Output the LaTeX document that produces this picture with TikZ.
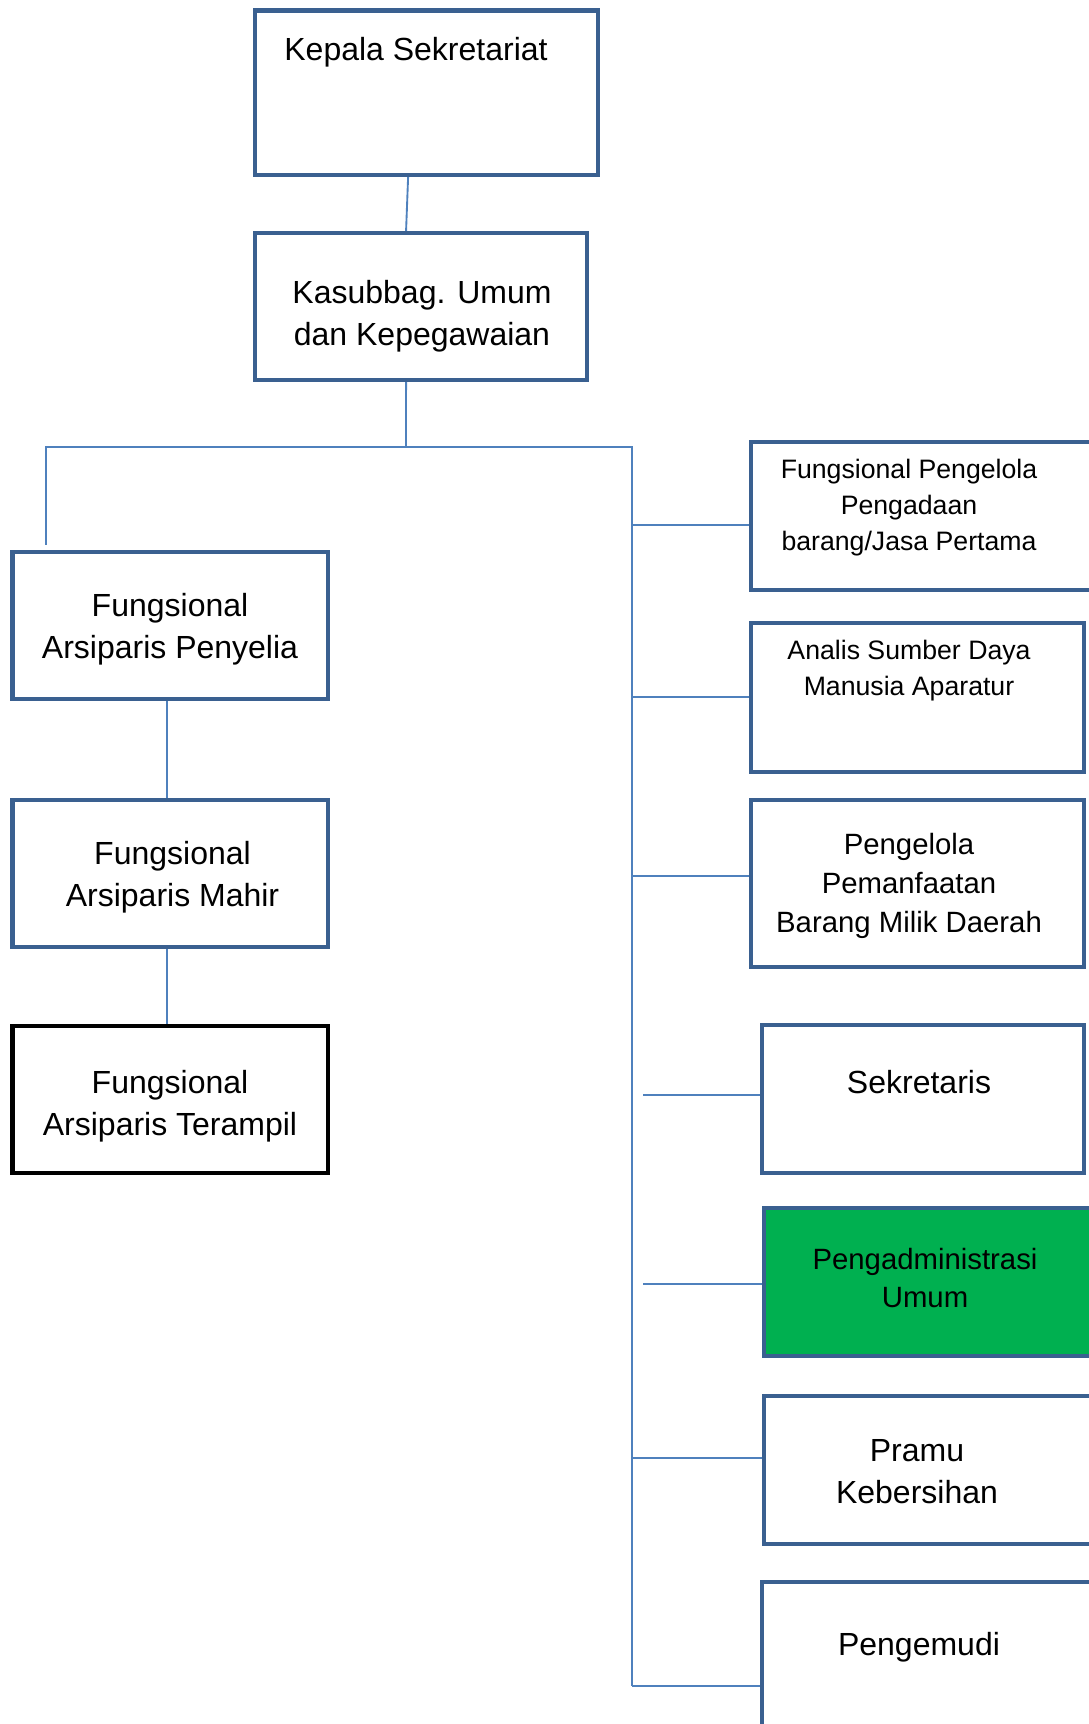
\documentclass[tikz,border=0pt]{standalone}
\usepackage{fontspec}
\setmainfont{Liberation Sans}
\definecolor{unitblue}{HTML}{3A6090}
\definecolor{linkblue}{HTML}{4F81BD}
\definecolor{admgreen}{HTML}{00B050}
\begin{document}
\begin{tikzpicture}[x=0.375pt,y=-0.375pt,unit/.style={shape=rectangle,draw=unitblue,line width=1.65pt,fill=white,inner sep=0pt},unitK/.style={unit,draw=black,line width=1.75pt},unitG/.style={unit,fill=admgreen},link/.style={draw=linkblue,line width=0.7pt},lbl/.style={align=center,inner sep=0pt,font=\fontsize{12}{15.75}\selectfont},lblM/.style={lbl,font=\fontsize{11}{14.6}\selectfont},lblS/.style={lbl,font=\fontsize{10}{13.5}\selectfont}]
\useasboundingbox (0,0) rectangle (1088,1724);

\node[unit,minimum width=128.6pt,minimum height=61.7pt] (kep) at (426.5,92.75) {};
\node[unit,minimum width=124.5pt,minimum height=55.1pt] (kas) at (421,306.5) {};
\node[unit,minimum width=118.3pt,minimum height=55.1pt] (pny) at (170.25,625.5) {};
\node[unit,minimum width=118.3pt,minimum height=55.1pt] (mhr) at (170.25,873.5) {};
\node[unitK,minimum width=118.3pt,minimum height=55.1pt] (trp) at (170.25,1099.5) {};
\node[unit,minimum width=129pt,minimum height=55.5pt] (pgl) at (923,516) {};
\node[unit,minimum width=124.9pt,minimum height=55.9pt] (anl) at (917.5,697.5) {};
\node[unit,minimum width=124.9pt,minimum height=62.6pt] (pmf) at (917.5,883.5) {};
\node[unit,minimum width=120.75pt,minimum height=55.5pt] (skr) at (923,1099) {};
\node[unitG,minimum width=124.1pt,minimum height=55.5pt] (adm) at (929.5,1282) {};
\node[unit,minimum width=124.1pt,minimum height=55.5pt] (prm) at (929.5,1470) {};
\node[unit,minimum width=124.9pt,minimum height=59.25pt] (pmd) at (928.5,1661) {};

\node[lbl] (kepT) at (416,52) {Kepala Sekretariat};
\node[lbl] (kasT) at (422,316) {Kasubbag. Umum\\dan Kepegawaian};
\node[lbl] (pnyT) at (170,629) {Fungsional\\Arsiparis Penyelia};
\node[lbl] (mhrT) at (172.5,877) {Fungsional\\Arsiparis Mahir};
\node[lbl] (trpT) at (170,1106) {Fungsional\\Arsiparis Terampil};
\node[lblS] (pglT) at (909,508) {Fungsional Pengelola\\Pengadaan\\barang/Jasa Pertama};
\node[lblS] (anlT) at (909,671) {Analis Sumber Daya\\Manusia Aparatur};
\node[lblM] (pmfT) at (909,886) {Pengelola\\Pemanfaatan\\Barang Milik Daerah};
\node[lbl] (skrT) at (919,1082) {Sekretaris};
\node[lblM] (admT) at (925,1278) {Pengadministrasi\\Umum};
\node[lbl] (prmT) at (917,1471.5) {Pramu\\Kebersihan};
\node[lbl] (pmdT) at (919,1647) {Pengemudi};

\coordinate (busL) at (46,447);
\coordinate (busM) at (406,447);
\coordinate (busR) at (632,447);
\coordinate (dropL) at (46,545);
\coordinate (c1) at (632,525);
\coordinate (c2) at (632,697);
\coordinate (c3) at (632,876);
\coordinate (c4) at (643,1095);
\coordinate (c5) at (643,1284);
\coordinate (c6) at (632,1458);
\coordinate (c7) at (632,1686);

\draw[link] ([xshift=-6.9pt]kep.south) -- ([xshift=-5.6pt]kas.north);
\draw[link] ([xshift=-5.6pt]kas.south) -- (busM);
\draw[link] (dropL) -- (busL) -- (busR) -- (c7);
\draw[link] ([xshift=-1.2pt]pny.south) -- ([xshift=-1.2pt]mhr.north);
\draw[link] ([xshift=-1.2pt]mhr.south) -- ([xshift=-1.2pt]trp.north);
\foreach \c/\u in {c1/pgl,c2/anl,c3/pmf,c4/skr,c5/adm,c6/prm,c7/pmd}
  \draw[link] (\c) -- (\c -| \u.west);
\end{tikzpicture}
\end{document}
